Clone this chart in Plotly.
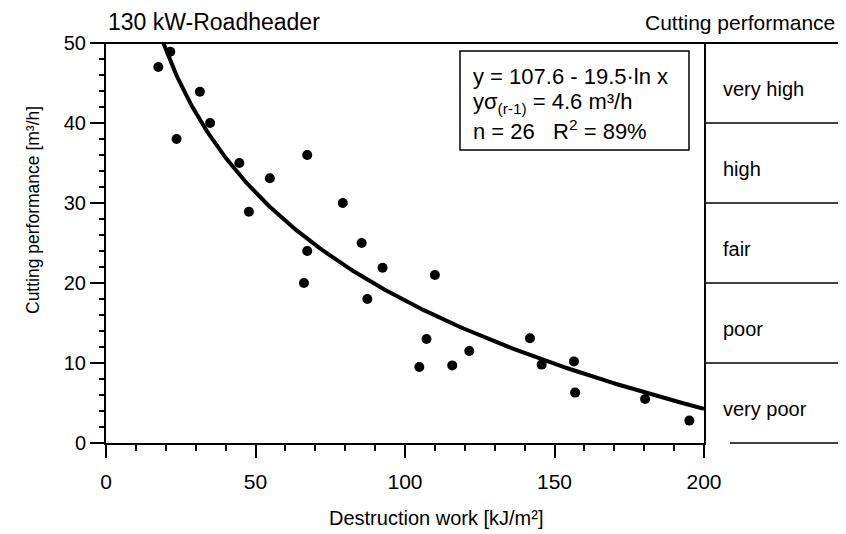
import numpy as np
import plotly.graph_objects as go

# ---- data ----
destruction_work = [17.5, 21.5, 23.6, 31.4, 34.8, 44.6, 47.8, 54.8, 67.3, 66.2,
                    67.3, 79.2, 85.5, 87.4, 92.5, 104.8, 107.2, 110.0, 115.8, 121.5,
                    141.8, 145.7, 156.5, 156.9, 180.3, 195.1]
cutting_perf = [47.0, 48.9, 38.0, 43.9, 40.0, 35.0, 28.9, 33.1, 36.0, 20.0,
                24.0, 30.0, 25.0, 18.0, 21.9, 9.5, 13.0, 21.0, 9.7, 11.5,
                13.1, 9.8, 10.2, 6.3, 5.5, 2.8]

# regression y = a - b * ln x (as printed on the chart)
fit_a = 107.6
fit_b = 19.5
x_max = 200
y_max = 50

x_ticks = [0, 50, 100, 150, 200]
y_ticks = [0, 10, 20, 30, 40, 50]

band_labels = ["very high", "high", "fair", "poor", "very poor"]
band_lower = [40, 30, 20, 10, 0]
band_upper = [50, 40, 30, 20, 10]

FONT = "Liberation Sans, Arial, sans-serif"
NBSP = "\u00a0"

x_start = np.exp((fit_a - y_max) / fit_b)
xf = np.linspace(x_start, x_max, 300)
yf = fit_a - fit_b * np.log(xf)

fig = go.Figure()
fig.add_trace(go.Scatter(x=xf, y=yf, mode="lines",
                         line=dict(color="black", width=4), hoverinfo="skip"))
fig.add_trace(go.Scatter(x=destruction_work, y=cutting_perf, mode="markers",
                         marker=dict(color="black", size=10)))

# page layout: the figure sits 8px in from the page edge and is 830px wide
FW, FH = 830, 534
OFF = 8
PLOT_L, PLOT_R, PLOT_T, PLOT_B = 106, 704, 43, 443   # page pixels of the plot box
ML = PLOT_L - OFF
MT = PLOT_T - OFF
MB = FH - (PLOT_B - OFF)
PW = FW - ML          # paper width (r = 0)
PH = PLOT_B - PLOT_T
dom_end = (PLOT_R - PLOT_L) / PW


def px(xp):
    return (xp - PLOT_L) / PW


def py(yp):
    return (PLOT_B - yp) / PH


fig.update_layout(
    width=FW, height=FH,
    margin=dict(l=ML, r=0, t=MT, b=MB, pad=0),
    paper_bgcolor="white", plot_bgcolor="white",
    showlegend=False,
    font=dict(family=FONT, color="black", size=20),
    xaxis=dict(domain=[0, dom_end], range=[0, x_max], tickvals=x_ticks,
               showgrid=False, zeroline=False, showline=True, linecolor="black",
               linewidth=2, ticks="outside", ticklen=13, tickwidth=2, tickcolor="black",
               minor=dict(dtick=10, ticks="outside", ticklen=6, tickwidth=1.5, tickcolor="black"),
               tickfont=dict(size=21), ticklabelstandoff=6, automargin=False),
    yaxis=dict(range=[0, y_max], tickvals=y_ticks,
               showgrid=False, zeroline=False, showline=True, linecolor="black",
               linewidth=2, mirror=True, ticks="outside", ticklen=14, tickwidth=2,
               tickcolor="black", ticksuffix=NBSP * 3,
               minor=dict(dtick=2, ticks="outside", ticklen=5, tickwidth=1.5, tickcolor="black"),
               tickfont=dict(size=20), automargin=False),
)

# top line spanning the chart and the rating panel
fig.add_shape(type="line", xref="paper", yref="y domain", x0=px(92), x1=1, y0=1, y1=1,
              line=dict(color="black", width=2))
# bottom line of the rating panel
fig.add_shape(type="line", xref="paper", yref="y domain", x0=px(730), x1=1, y0=0, y1=0,
              line=dict(color="black", width=1.5))
# band separators
for lo in band_lower:
    if lo > 0:
        fig.add_shape(type="line", xref="paper", yref="y", x0=dom_end, x1=1, y0=lo, y1=lo,
                      line=dict(color="black", width=1.5))
# band labels
for lab, lo, hi in zip(band_labels, band_lower, band_upper):
    fig.add_annotation(text=lab, xref="paper", yref="y", x=px(721),
                       y=(lo + hi) / 2, yshift=-6, xanchor="left", yanchor="middle",
                       showarrow=False, font=dict(size=20))

# statistics box
fig.add_shape(type="rect", xref="paper", yref="paper", x0=px(460), x1=px(689),
              y0=py(150), y1=py(51),
              line=dict(color="black", width=1.5), fillcolor="white", layer="below")
stats_lines = ["y = 107.6 - 19.5·ln x",
               "yσ<sub>(r-1)</sub> = 4.6 m³/h",
               "n = 26   R<sup>2</sup> = 89%"]
stats_y = [77, 103, 130]
for t, yy in zip(stats_lines, stats_y):
    fig.add_annotation(text=t, xref="paper", yref="paper", x=px(471), y=py(yy),
                       xanchor="left", yanchor="middle", showarrow=False,
                       font=dict(size=22))

# headings
fig.add_annotation(text="130 kW-Roadheader", xref="paper", yref="paper", x=px(106), y=py(22),
                   xanchor="left", yanchor="middle", showarrow=False, font=dict(size=23))
fig.add_annotation(text="Cutting performance", xref="paper", yref="paper", x=px(643), y=py(22),
                   xanchor="left", yanchor="middle", showarrow=False, font=dict(size=21))

# axis titles
fig.add_annotation(text="Destruction work [kJ/m²]", xref="paper", yref="paper",
                   x=px(436), y=py(518),
                   xanchor="center", yanchor="middle", showarrow=False, font=dict(size=20))
fig.add_annotation(text="Cutting performance [m³/h]", xref="paper", yref="paper",
                   x=px(33), y=py(210),
                   xanchor="center", yanchor="middle", textangle=-90, showarrow=False,
                   font=dict(size=17.5))

fig.write_html("out.html")
